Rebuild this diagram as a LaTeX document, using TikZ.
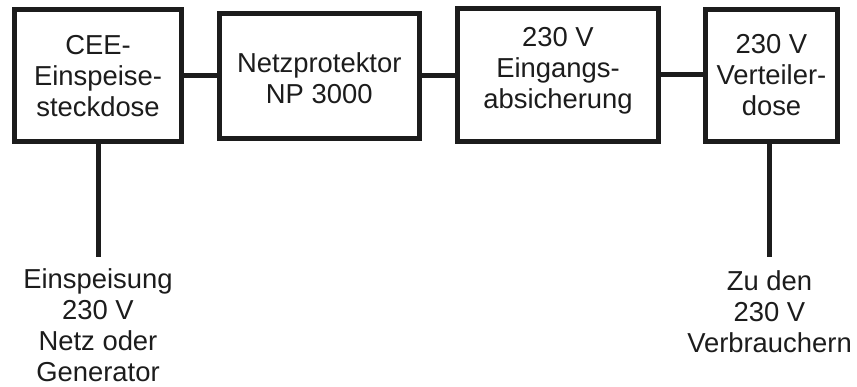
\documentclass[tikz,border=0pt]{standalone}
\usepackage{fontspec}
\setmainfont{Liberation Sans}
\definecolor{ink}{RGB}{28,28,28}
\begin{document}
\begin{tikzpicture}[x=1pt,y=-1pt,
  box/.style={draw=ink, line width=5pt, inner sep=0pt, fill=white},
  txt/.style={text=ink, align=center, inner sep=0pt, font=\fontsize{27.4}{31}\selectfont},
  wire/.style={draw=ink, line width=5pt}]
\useasboundingbox[fill=white] (0,0) rectangle (857,386);
% boxes
\node[box, minimum width=167pt, minimum height=131.5pt] (b1) at (98,75.25) {};
\node[box, minimum width=199.5pt, minimum height=125pt] (b2) at (319.25,75.5) {};
\node[box, minimum width=201pt, minimum height=132.5pt] (b3) at (558,74.75) {};
\node[box, minimum width=132pt, minimum height=131.5pt] (b4) at (771.5,75.25) {};
% box texts
\node[txt] (t1) at (98,76.3) {CEE-\\Einspeise-\\steckdose};
\node[txt] (t2) at (319.25,78.5) {Netzprotektor\\NP 3000};
\node[txt] (t3) at (558,71.2) {230 V\\Eingangs-\\absicherung};
\node[txt] (t4) at (771.5,74.6) {230 V\\Verteiler-\\dose};
% horizontal connectors
\draw[wire] (b1.east) -- (b1.east -| b2.west);
\draw[wire] (b2.east) -- (b2.east -| b3.west);
\draw[wire] (b3.east) -- (b3.east -| b4.west);
% vertical connectors
\coordinate (e1) at (98,257);
\coordinate (e2) at (769.5,257);
\draw[wire] (b1.south) -- (e1);
\draw[wire] (e2 |- b4.south) -- (e2);
% bottom labels
\node[txt] (l1) at (98,325.6) {Einspeisung\\230 V\\Netz oder\\Generator};
\node[txt] (l2) at (769.5,312) {Zu den\\230 V\\Verbrauchern};
\end{tikzpicture}
\end{document}
